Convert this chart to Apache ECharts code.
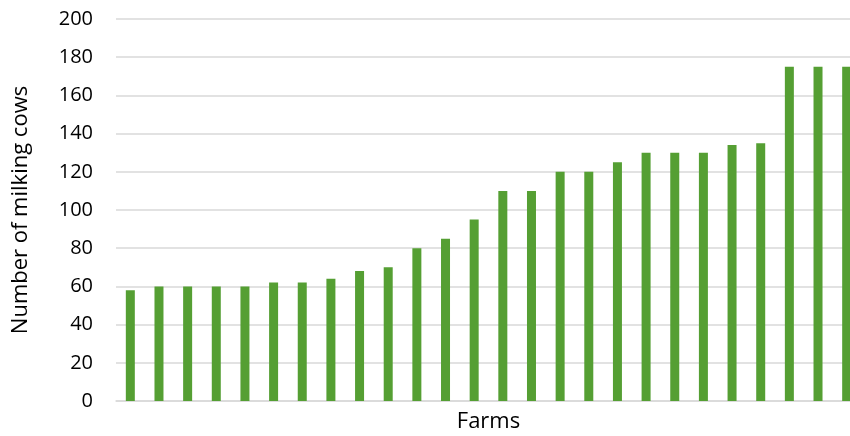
<!DOCTYPE html>
<html>
<head>
<meta charset="utf-8">
<script src="https://cdn.jsdelivr.net/npm/echarts@6/dist/echarts.min.js"></script>
<style>
  html, body { margin: 0; padding: 0; background: #fff; }
  #chart { width: 850px; height: 436px; }
</style>
</head>
<body>
<div id="chart"></div>
<script>
// Herd sizes per farm, sorted ascending
const farms = ['1','2','3','4','5','6','7','8','9','10','11','12','13','14','15','16','17','18','19','20','21','22','23','24','25','26'];
const milkingCows = [58, 60, 60, 60, 60, 62, 62, 64, 68, 70, 80, 85, 95, 110, 110, 120, 120, 125, 130, 130, 130, 134, 135, 175, 175, 175];

const font = 'Open Sans, Liberation Sans, sans-serif';
const chart = echarts.init(document.getElementById('chart'));
chart.setOption({
  animation: false,
  grid: { left: 116, right: -11, top: 19, bottom: 35, containLabel: false, outerBoundsMode: 'none' },
  xAxis: {
    type: 'category',
    data: farms,
    name: 'Farms',
    nameLocation: 'middle',
    nameGap: 10,
    nameTextStyle: { fontFamily: font, fontSize: 22, color: '#000' },
    axisLine: { show: true, lineStyle: { color: '#d9d9d9', width: 1.5 } },
    axisTick: { show: false },
    axisLabel: { show: false }
  },
  yAxis: {
    type: 'value',
    min: 0,
    max: 200,
    interval: 20,
    name: 'Number of milking cows',
    nameLocation: 'middle',
    nameGap: 84,
    nameTextStyle: { fontFamily: font, fontSize: 22, color: '#000' },
    axisLine: { show: false },
    axisTick: { show: false },
    axisLabel: { fontFamily: font, fontSize: 20, color: '#000', margin: 23 },
    splitLine: { lineStyle: { color: '#d9d9d9', width: 1.5 } }
  },
  series: [{
    type: 'bar',
    data: milkingCows,
    barWidth: 9,
    itemStyle: { color: '#559f33' }
  }]
});
</script>
</body>
</html>
